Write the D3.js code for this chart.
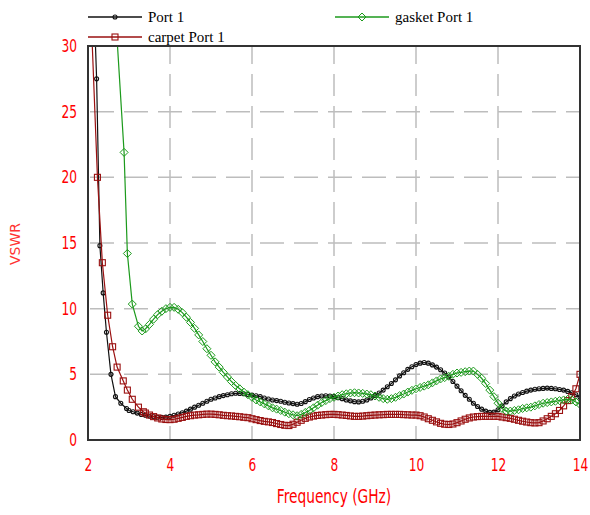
<html>
<head>
<meta charset="utf-8">
<title>VSWR</title>
<script src="https://d3js.org/d3.v7.min.js"></script>
<style>
body { margin: 0; background: #fff; }
</style>
</head>
<body>
<svg width="590" height="515"></svg>
<script>
// Port 1 (black)
var port1F = [2.15, 2.21, 2.29, 2.37, 2.45, 2.56, 2.67, 2.8, 2.94,
  3.0, 3.1, 3.2, 3.3, 3.4, 3.5, 3.6, 3.7, 3.8, 3.9, 4.0, 4.1, 4.2, 4.3, 4.4, 4.5, 4.6, 4.7, 4.8, 4.9,
  5.0, 5.1, 5.2, 5.3, 5.4, 5.5, 5.6, 5.7, 5.8, 5.9, 6.0, 6.1, 6.2, 6.3, 6.4, 6.5, 6.6, 6.7, 6.8, 6.9,
  7.0, 7.1, 7.2, 7.3, 7.4, 7.5, 7.6, 7.7, 7.8, 7.9, 8.0, 8.1, 8.2, 8.3, 8.4, 8.5, 8.6, 8.7, 8.8, 8.9,
  9.0, 9.1, 9.2, 9.3, 9.4, 9.5, 9.6, 9.7, 9.8, 9.9, 10.0, 10.1, 10.2, 10.3, 10.4, 10.5, 10.6, 10.7, 10.8, 10.9,
  11.0, 11.1, 11.2, 11.3, 11.4, 11.5, 11.6, 11.7, 11.8, 11.9, 12.0, 12.1, 12.2, 12.3, 12.4, 12.5, 12.6, 12.7, 12.8, 12.9,
  13.0, 13.1, 13.2, 13.3, 13.4, 13.5, 13.6, 13.7, 13.8, 13.9, 14.0];
var port1V = [33, 27.5, 14.8, 11.2, 8.2, 5.0, 3.3, 2.8, 2.4,
  2.25, 2.15, 2.05, 1.95, 1.88, 1.82, 1.77, 1.73, 1.72, 1.74, 1.8, 1.88, 1.98, 2.08, 2.2, 2.35, 2.5, 2.65, 2.8, 2.95,
  3.1, 3.2, 3.3, 3.38, 3.45, 3.52, 3.56, 3.55, 3.52, 3.47, 3.42, 3.37, 3.3, 3.2, 3.12, 3.05, 3.0, 2.95, 2.88, 2.82,
  2.77, 2.72, 2.78, 2.92, 3.08, 3.2, 3.3, 3.35, 3.37, 3.35, 3.3, 3.22, 3.15, 3.05, 2.98, 2.92, 2.9, 2.95, 3.05, 3.2,
  3.38, 3.58, 3.8, 4.05, 4.3, 4.58, 4.88, 5.12, 5.38, 5.58, 5.75, 5.85, 5.9, 5.85, 5.72, 5.55, 5.35, 5.1, 4.8, 4.45,
  4.1, 3.75, 3.4, 3.1, 2.8, 2.55, 2.35, 2.2, 2.1, 2.12, 2.3, 2.6, 2.9, 3.15, 3.35, 3.5, 3.62, 3.72, 3.8, 3.86,
  3.9, 3.93, 3.95, 3.93, 3.9, 3.85, 3.8, 3.7, 3.6, 3.45, 3.25];

// gasket Port 1 (green)
var gasketF = [2.7, 2.88, 2.96, 3.08, 3.23, 3.32,
  3.4, 3.5, 3.6, 3.7, 3.8, 3.9, 4.0, 4.1, 4.2, 4.3, 4.4, 4.5, 4.6, 4.7, 4.8, 4.9,
  5.0, 5.1, 5.2, 5.3, 5.4, 5.5, 5.6, 5.7, 5.8, 5.9, 6.0, 6.1, 6.2, 6.3, 6.4, 6.5, 6.6, 6.7, 6.8, 6.9,
  7.0, 7.1, 7.2, 7.3, 7.4, 7.5, 7.6, 7.7, 7.8, 7.9, 8.0, 8.1, 8.2, 8.3, 8.4, 8.5, 8.6, 8.7, 8.8, 8.9,
  9.0, 9.1, 9.2, 9.3, 9.4, 9.5, 9.6, 9.7, 9.8, 9.9, 10.0, 10.1, 10.2, 10.3, 10.4, 10.5, 10.6, 10.7, 10.8, 10.9,
  11.0, 11.1, 11.2, 11.3, 11.4, 11.5, 11.6, 11.7, 11.8, 11.9, 12.0, 12.1, 12.2, 12.3, 12.4, 12.5, 12.6, 12.7, 12.8, 12.9,
  13.0, 13.1, 13.2, 13.3, 13.4, 13.5, 13.6, 13.7, 13.8, 13.9, 14.0];
var gasketV = [31, 21.9, 14.2, 10.35, 8.66, 8.3,
  8.45, 8.8, 9.2, 9.55, 9.8, 10.0, 10.1, 10.1, 9.95, 9.7, 9.35, 8.95, 8.5, 8.0, 7.5, 6.95,
  6.45, 5.95, 5.55, 5.15, 4.8, 4.45, 4.15, 3.9, 3.65, 3.45, 3.25, 3.05, 2.9, 2.75, 2.6, 2.45, 2.35, 2.25, 2.12, 2.0,
  1.92, 1.85, 1.95, 2.1, 2.25, 2.45, 2.65, 2.85, 3.0, 3.15, 3.25, 3.35, 3.45, 3.52, 3.58, 3.6, 3.58, 3.55, 3.5, 3.45,
  3.35, 3.25, 3.15, 3.1, 3.15, 3.25, 3.38, 3.5, 3.65, 3.78, 3.9, 4.0, 4.1, 4.2, 4.35, 4.5, 4.65, 4.75, 4.85, 5.0,
  5.1, 5.15, 5.2, 5.25, 5.25, 5.0, 4.7, 4.3, 3.8, 3.3, 2.8, 2.4, 2.2, 2.2, 2.25, 2.3, 2.4, 2.45, 2.5, 2.6,
  2.7, 2.8, 2.85, 2.9, 2.95, 3.0, 3.05, 3.1, 3.05, 2.9, 2.7];

// carpet Port 1 (dark red)
var carpetF = [2.08, 2.23, 2.35, 2.48, 2.6, 2.71, 2.86, 2.96, 3.08, 3.23, 3.35,
  3.4, 3.5, 3.6, 3.7, 3.8, 3.9, 4.0, 4.1, 4.2, 4.3, 4.4, 4.5, 4.6, 4.7, 4.8, 4.9,
  5.0, 5.1, 5.2, 5.3, 5.4, 5.5, 5.6, 5.7, 5.8, 5.9, 6.0, 6.1, 6.2, 6.3, 6.4, 6.5, 6.6, 6.7, 6.8, 6.9,
  7.0, 7.1, 7.2, 7.3, 7.4, 7.5, 7.6, 7.7, 7.8, 7.9, 8.0, 8.1, 8.2, 8.3, 8.4, 8.5, 8.6, 8.7, 8.8, 8.9,
  9.0, 9.1, 9.2, 9.3, 9.4, 9.5, 9.6, 9.7, 9.8, 9.9, 10.0, 10.1, 10.2, 10.3, 10.4, 10.5, 10.6, 10.7, 10.8, 10.9,
  11.0, 11.1, 11.2, 11.3, 11.4, 11.5, 11.6, 11.7, 11.8, 11.9, 12.0, 12.1, 12.2, 12.3, 12.4, 12.5, 12.6, 12.7, 12.8, 12.9,
  13.0, 13.1, 13.2, 13.3, 13.4, 13.5, 13.6, 13.7, 13.8, 13.9, 14.0];
var carpetV = [32, 20, 13.5, 9.5, 7.1, 5.55, 4.5, 3.8, 3.1, 2.5, 2.15,
  2.05, 1.9, 1.78, 1.68, 1.6, 1.56, 1.55, 1.58, 1.65, 1.72, 1.8, 1.85, 1.9, 1.92, 1.95, 1.97,
  1.97, 1.95, 1.92, 1.88, 1.85, 1.83, 1.8, 1.77, 1.73, 1.7, 1.62, 1.55, 1.48, 1.42, 1.38, 1.33, 1.25, 1.18, 1.12, 1.1,
  1.2, 1.35, 1.5, 1.65, 1.75, 1.82, 1.87, 1.9, 1.93, 1.95, 1.95, 1.93, 1.9, 1.87, 1.83, 1.8, 1.8, 1.82, 1.85, 1.88,
  1.9, 1.92, 1.93, 1.95, 1.95, 1.95, 1.95, 1.93, 1.92, 1.9, 1.9, 1.85, 1.75, 1.62, 1.5, 1.38, 1.27, 1.2, 1.18, 1.22,
  1.32, 1.45, 1.58, 1.68, 1.75, 1.78, 1.8, 1.8, 1.8, 1.8, 1.8, 1.75, 1.7, 1.65, 1.58, 1.5, 1.43, 1.37, 1.32, 1.3,
  1.32, 1.45, 1.62, 1.8, 2.0, 2.25, 2.6, 3.0, 3.3, 3.9, 5.0];

var xTicks = [2, 4, 6, 8, 10, 12, 14];
var yTicks = [0, 5, 10, 15, 20, 25, 30];

var plotL = 88, plotR = 580, plotT = 46, plotB = 440;
var svg = d3.select("svg");
var x = d3.scaleLinear().domain([2, 14]).range([plotL, plotR]);
var y = d3.scaleLinear().domain([0, 30]).range([plotB, plotT]);

var tickFont = "'DejaVu Sans Condensed', 'DejaVu Sans', sans-serif";

svg.append("clipPath").attr("id", "plotclip")
  .append("rect").attr("x", plotL).attr("y", plotT).attr("width", plotR - plotL).attr("height", plotB - plotT);

// grid
var grid = svg.append("g");
grid.selectAll("line.v").data(xTicks.slice(1, -1)).enter().append("line")
  .attr("x1", function(d){ return x(d); }).attr("x2", function(d){ return x(d); })
  .attr("y1", plotT).attr("y2", plotB)
  .attr("stroke", "#bdbdbd").attr("stroke-width", 1.5)
  .style("stroke-dasharray", "22,10").style("stroke-dashoffset", 4);
grid.selectAll("line.h").data(yTicks.slice(1, -1)).enter().append("line")
  .attr("y1", function(d){ return y(d); }).attr("y2", function(d){ return y(d); })
  .attr("x1", plotL).attr("x2", plotR)
  .attr("stroke", "#bdbdbd").attr("stroke-width", 1.5)
  .style("stroke-dasharray", "24,10").style("stroke-dashoffset", -2);

// axes (labels only)
var xAxis = svg.append("g").attr("transform", "translate(0," + plotB + ")")
  .call(d3.axisBottom(x).tickValues(xTicks).tickSize(0).tickPadding(17));
xAxis.select(".domain").remove();
xAxis.selectAll("text").style("font-family", tickFont).style("font-size", "16px").attr("fill", "#ff0000")
  .attr("transform", "scale(0.85,1.1)");

var yAxis = svg.append("g").attr("transform", "translate(" + plotL + ",0)")
  .call(d3.axisLeft(y).tickValues(yTicks).tickSize(0).tickPadding(13));
yAxis.select(".domain").remove();
yAxis.selectAll("text").style("font-family", tickFont).style("font-size", "16px").attr("fill", "#ff0000")
  .attr("transform", "scale(0.85,1.1)");

svg.append("text").attr("transform", "translate(334,503) scale(0.9,1.1)").attr("text-anchor", "middle")
  .style("font-family", tickFont).style("font-size", "17px").attr("fill", "#ff0000")
  .text("Frequency (GHz)");
svg.append("text").attr("transform", "translate(20,244) rotate(-90)").attr("text-anchor", "middle")
  .style("font-family", "'DejaVu Sans', sans-serif").style("font-size", "14px").attr("fill", "#ff3333")
  .text("VSWR");

var series = [
  { name: "Port 1", f: port1F, v: port1V, color: "#111111", marker: "circle" },
  { name: "carpet Port 1", f: carpetF, v: carpetV, color: "#9a1010", marker: "square" },
  { name: "gasket Port 1", f: gasketF, v: gasketV, color: "#1c9a1c", marker: "diamond" }
];

var line = d3.line().x(function(d){ return x(d[0]); }).y(function(d){ return y(d[1]); });

function drawMarker(g, kind, cx, cy, color) {
  if (kind === "circle") {
    g.append("circle").attr("cx", cx).attr("cy", cy).attr("r", 2)
      .attr("fill", "none").attr("stroke", color).attr("stroke-width", 1.1);
  } else if (kind === "square") {
    g.append("rect").attr("x", cx - 3).attr("y", cy - 3).attr("width", 6).attr("height", 6)
      .attr("fill", "none").attr("stroke", color).attr("stroke-width", 1.1);
  } else {
    g.append("path").attr("d", "M" + cx + "," + (cy - 4) + "L" + (cx + 4) + "," + cy + "L" + cx + "," + (cy + 4) + "L" + (cx - 4) + "," + cy + "Z")
      .attr("fill", "none").attr("stroke", color).attr("stroke-width", 1);
  }
}

var plot = svg.append("g").attr("clip-path", "url(#plotclip)");
series.forEach(function(s) {
  var pts = s.f.map(function(f, i){ return [f, s.v[i]]; });
  var g = plot.append("g");
  g.append("path").datum(pts).attr("d", line)
    .attr("fill", "none").attr("stroke", s.color).attr("stroke-width", 1.2);
  pts.forEach(function(p) { drawMarker(g, s.marker, x(p[0]), y(p[1]), s.color); });
});

// frame
svg.append("rect").attr("x", plotL).attr("y", plotT).attr("width", plotR - plotL).attr("height", plotB - plotT)
  .attr("fill", "none").attr("stroke", "#333").attr("stroke-width", 2);

// legend
var legend = [
  { name: "Port 1", color: "#111111", marker: "circle", lx: 88, ly: 17 },
  { name: "gasket Port 1", color: "#1c9a1c", marker: "diamond", lx: 335, ly: 17 },
  { name: "carpet Port 1", color: "#9a1010", marker: "square", lx: 88, ly: 37 }
];
legend.forEach(function(l) {
  var g = svg.append("g");
  g.append("line").attr("x1", l.lx).attr("x2", l.lx + 54).attr("y1", l.ly).attr("y2", l.ly)
    .attr("stroke", l.color).attr("stroke-width", 1.5);
  drawMarker(g, l.marker, l.lx + 27, l.ly, l.color);
  g.append("text").attr("x", l.lx + 60).attr("y", l.ly + 5)
    .style("font-family", "'Liberation Serif', serif").style("font-size", "15px").attr("fill", "#000")
    .text(l.name);
});
</script>
</body>
</html>
